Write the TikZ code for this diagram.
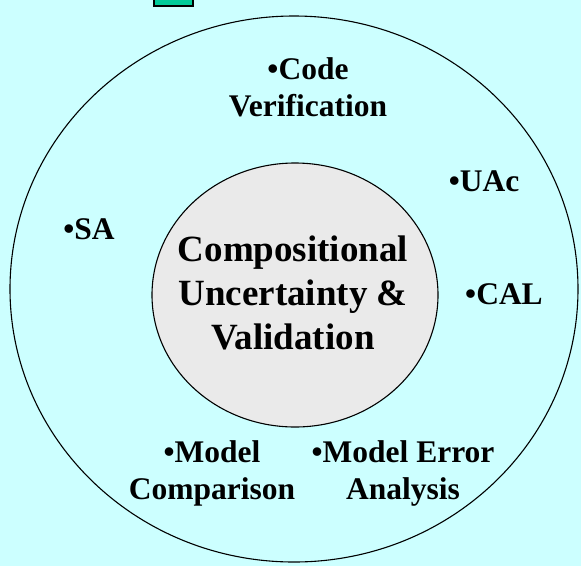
\documentclass[tikz,border=0pt]{standalone}
\usepackage{fontspec}
\setmainfont{Liberation Serif}
\definecolor{bgcyan}{HTML}{CCFFFF}
\definecolor{coregray}{HTML}{EAEAEA}
\definecolor{tabgreen}{HTML}{00CC99}
\begin{document}
\begin{tikzpicture}[x=1pt,y=-1pt,
  lbl/.style={font=\fontsize{31.5}{37}\selectfont\bfseries, align=center, inner sep=0pt},
  core/.style={font=\fontsize{37}{44}\selectfont\bfseries, align=center, inner sep=0pt}]
  % canvas
  \fill[bgcyan] (0,0) rectangle (581,566);
  \useasboundingbox (0,0) rectangle (581,566);
  % small tab at the top edge
  \fill[tabgreen, draw=black, line width=1.2pt] (154,-3) rectangle (193,6);
  % outer ring and inner core
  \draw[line width=1.1pt] (294,289) ellipse [x radius=284, y radius=273];
  \draw[fill=coregray, line width=1.1pt] (295,295) ellipse [x radius=143, y radius=132];
  \node[core] (core) at (293,293) {Compositional\\Uncertainty \&\\Validation};
  % surrounding activities
  \node[lbl] (cv) at (308,87) {•Code\\Verification};
  \node[lbl] (uac) at (484,181) {•UAc};
  \node[lbl] (sa) at (89,229) {•SA};
  \node[lbl] (cal) at (504,294) {•CAL};
  \node[lbl] (mc) at (212,473) {•Model\\Comparison};
  \node[lbl] (mea) at (403,473) {•Model Error\\Analysis};
\end{tikzpicture}
\end{document}
